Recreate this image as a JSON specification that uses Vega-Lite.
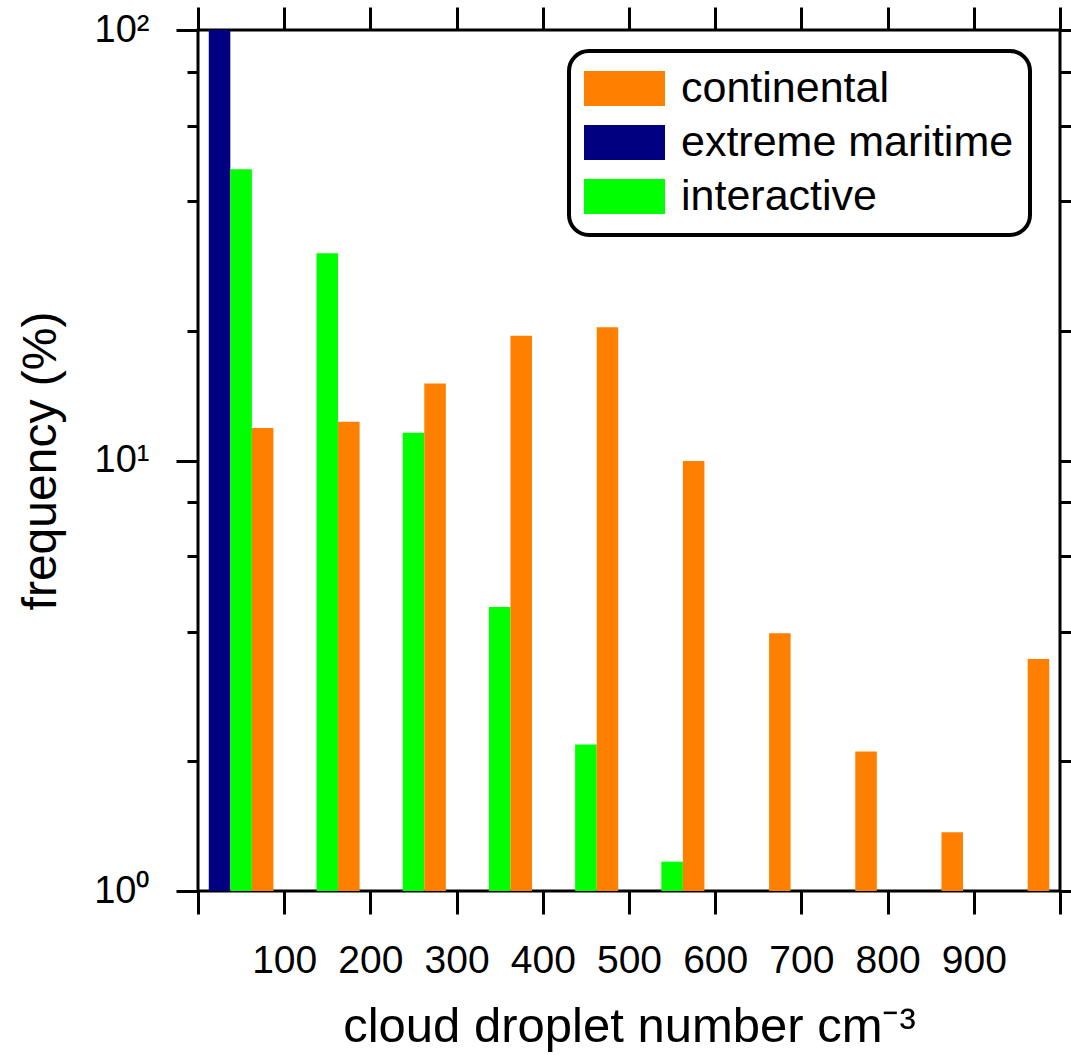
{
  "$schema": "https://vega.github.io/schema/vega-lite/v6.json",
  "width": 862,
  "height": 861,
  "autosize": "none",
  "padding": {"left": 198, "top": 30, "right": 11, "bottom": 164},
  "background": "white",
  "config": {
    "view": {"stroke": "black", "strokeWidth": 3},
    "font": "Liberation Sans",
    "axis": {"labelFont": "Liberation Sans", "titleFont": "Liberation Sans", "labelColor": "black", "titleColor": "black", "tickColor": "black", "grid": false, "domain": false, "titleFontWeight": "normal"},
    "legend": {"strokeColor": "black", "cornerRadius": 20, "fillColor": "white", "padding": 16}
  },
  "data": {
    "values": [
      {"bin": 50, "series": "extreme maritime", "freq": 100},
      {"bin": 50, "series": "interactive", "freq": 47.5},
      {"bin": 50, "series": "continental", "freq": 11.9},
      {"bin": 150, "series": "interactive", "freq": 30.3},
      {"bin": 150, "series": "continental", "freq": 12.3},
      {"bin": 250, "series": "interactive", "freq": 11.6},
      {"bin": 250, "series": "continental", "freq": 15.1},
      {"bin": 350, "series": "interactive", "freq": 4.57},
      {"bin": 350, "series": "continental", "freq": 19.5},
      {"bin": 450, "series": "interactive", "freq": 2.19},
      {"bin": 450, "series": "continental", "freq": 20.4},
      {"bin": 550, "series": "interactive", "freq": 1.17},
      {"bin": 550, "series": "continental", "freq": 9.97},
      {"bin": 650, "series": "continental", "freq": 3.97},
      {"bin": 750, "series": "continental", "freq": 2.11},
      {"bin": 850, "series": "continental", "freq": 1.37},
      {"bin": 950, "series": "continental", "freq": 3.46}
    ]
  },
  "layer": [
    {
      "mark": {"type": "bar", "clip": true},
      "encoding": {
        "x": {"field": "bin", "type": "ordinal", "scale": {"domain": [50, 150, 250, 350, 450, 550, 650, 750, 850, 950], "paddingInner": 0, "paddingOuter": 0}, "axis": null},
        "xOffset": {"field": "series", "type": "nominal", "scale": {"domain": ["extreme maritime", "interactive", "continental"], "paddingInner": 0, "paddingOuter": 0.5}},
        "y": {
          "field": "freq", "type": "quantitative",
          "scale": {"type": "log", "domain": [1, 100], "nice": false},
          "axis": {
            "orient": "left",
            "title": "frequency (%)",
            "values": [1, 2, 4, 6, 8, 10, 20, 40, 60, 80, 100],
            "labelExpr": "datum.value == 1 ? '10⁰' : datum.value == 10 ? '10¹' : datum.value == 100 ? '10²' : ''",
            "tickSize": {"condition": {"test": "datum.value == 1 || datum.value == 10 || datum.value == 100", "value": 22}, "value": 11},
            "tickWidth": 3,
            "labelFontSize": 38,
            "labelPadding": 27,
            "titleFontSize": 48,
            "titlePadding": 28
          }
        },
        "y2": {"datum": 1},
        "color": {
          "field": "series", "type": "nominal",
          "scale": {"domain": ["continental", "extreme maritime", "interactive"], "range": ["#FF8000", "#000080", "#00FF00"]},
          "legend": {
            "title": null,
            "orient": "none",
            "legendX": 371,
            "legendY": 21,
            "symbolType": "M-2,-0.864L2,-0.864L2,0.864L-2,0.864Z",
            "symbolSize": 1640,
            "symbolOffset": 18,
            "symbolStrokeWidth": 0,
            "symbolOpacity": 1,
            "labelFont": "Liberation Sans",
            "labelFontSize": 43,
            "labelColor": "black",
            "labelOffset": 35,
            "labelLimit": 600,
            "rowPadding": 10,
            "encode": {"legend": {"update": {"strokeWidth": {"value": 4}}}}
          }
        }
      }
    },
    {
      "data": {"values": [{}]},
      "mark": {"type": "rule", "opacity": 0},
      "encoding": {
        "x": {
          "datum": 0, "type": "quantitative",
          "scale": {"domain": [0, 1000], "nice": false},
          "axis": {
            "orient": "bottom",
            "values": [0, 100, 200, 300, 400, 500, 600, 700, 800, 900, 1000],
            "labelExpr": "datum.value == 0 || datum.value == 1000 ? '' : datum.label",
            "title": "cloud droplet number cm⁻³",
            "tickSize": 23,
            "tickWidth": 3,
            "labelFontSize": 39,
            "labelPadding": 27,
            "labelOverlap": false,
            "labelFlush": false,
            "titleFontSize": 49,
            "titlePadding": 22
          }
        }
      }
    },
    {
      "data": {"values": [{}]},
      "mark": {"type": "rule", "opacity": 0},
      "encoding": {
        "x": {
          "datum": 0, "type": "quantitative",
          "scale": {"domain": [0, 1000], "nice": false},
          "axis": {
            "orient": "top",
            "values": [0, 100, 200, 300, 400, 500, 600, 700, 800, 900, 1000],
            "labels": false,
            "title": null,
            "tickSize": 23,
            "tickWidth": 3
          }
        }
      }
    },
    {
      "data": {"values": [{}]},
      "mark": {"type": "rule", "opacity": 0},
      "encoding": {
        "y": {
          "datum": 1, "type": "quantitative",
          "scale": {"type": "log", "domain": [1, 100], "nice": false},
          "axis": {
            "orient": "right",
            "values": [1, 2, 4, 6, 8, 10, 20, 40, 60, 80, 100],
            "labels": false,
            "title": null,
            "tickSize": {"condition": {"test": "datum.value == 1 || datum.value == 10 || datum.value == 100", "value": 22}, "value": 11},
            "tickWidth": 3
          }
        }
      }
    }
  ],
  "resolve": {"scale": {"x": "independent"}, "axis": {"x": "independent", "y": "independent"}}
}
